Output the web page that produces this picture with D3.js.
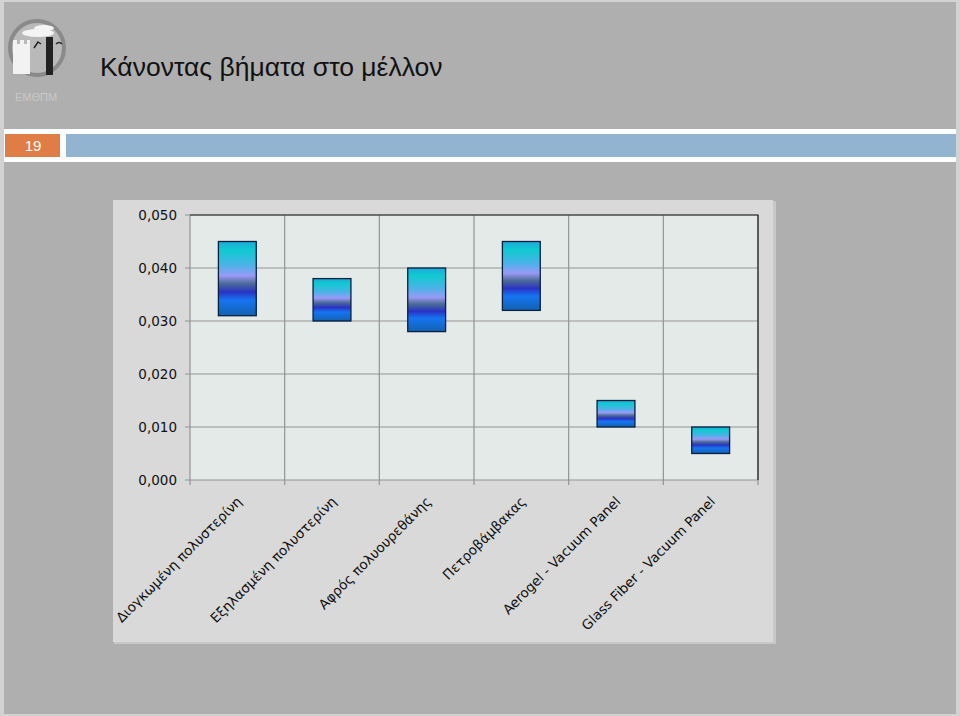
<!DOCTYPE html>
<html>
<head>
<meta charset="utf-8">
<script src="https://cdn.jsdelivr.net/npm/d3@7"></script>
<style>
  html, body { margin: 0; padding: 0; background: #d2d2d2; }
  svg { display: block; }
</style>
</head>
<body>
<svg id="chart" width="960" height="716"></svg>
<script>
// ---- DATA ----
const categories = [
  "Διογκωμένη πολυστερίνη",
  "Εξηλασμένη πολυστερίνη",
  "Αφρός πολυουρεθάνης",
  "Πετροβάμβακας",
  "Aerogel - Vacuum Panel",
  "Glass Fiber - Vacuum Panel"
];
const lowValues  = [0.031, 0.030, 0.028, 0.032, 0.010, 0.005];
const highValues = [0.045, 0.038, 0.040, 0.045, 0.015, 0.010];
const yTicks = [0, 0.01, 0.02, 0.03, 0.04, 0.05];
const yTickLabels = ["0,000", "0,010", "0,020", "0,030", "0,040", "0,050"];
const slideTitle = "Κάνοντας βήματα στο μέλλον";
const slideNumber = "19";
const logoText = "ΕΜΘΠΜ";

const svg = d3.select("#chart");

// ---- slide background ----
svg.append("rect").attr("x", 4).attr("y", 2).attr("width", 952).attr("height", 712).attr("fill", "#afafaf");

// header strip
svg.append("rect").attr("x", 4).attr("y", 129).attr("width", 952).attr("height", 33).attr("fill", "#fbfdff");
svg.append("rect").attr("x", 5).attr("y", 134).attr("width", 55).attr("height", 23).attr("fill", "#e07c46");
svg.append("rect").attr("x", 66).attr("y", 134).attr("width", 890).attr("height", 23).attr("fill", "#93b4d1");
svg.append("text").attr("x", 33).attr("y", 151).attr("text-anchor", "middle")
  .attr("font-family", "Liberation Sans, Arial, sans-serif").attr("font-size", 15)
  .attr("fill", "#ffffff").text(slideNumber);

// title
svg.append("text").attr("x", 100).attr("y", 76)
  .attr("font-family", "Liberation Sans, Arial, sans-serif").attr("font-size", 26.5)
  .attr("fill", "#111").text(slideTitle);

// logo (approximation)
const logo = svg.append("g");
logo.append("circle").attr("cx", 37).attr("cy", 48).attr("r", 27).attr("fill", "#b9b9b9")
  .attr("stroke", "#8a8a8a").attr("stroke-width", 4);
logo.append("rect").attr("x", 13).attr("y", 44).attr("width", 17).attr("height", 30).attr("fill", "#f2f2f2");
logo.append("rect").attr("x", 13).attr("y", 40).attr("width", 4).attr("height", 5).attr("fill", "#f2f2f2");
logo.append("rect").attr("x", 20).attr("y", 40).attr("width", 4).attr("height", 5).attr("fill", "#f2f2f2");
logo.append("rect").attr("x", 27).attr("y", 40).attr("width", 3).attr("height", 5).attr("fill", "#f2f2f2");
logo.append("rect").attr("x", 46).attr("y", 37).attr("width", 7).attr("height", 38).attr("fill", "#222");
logo.append("ellipse").attr("cx", 38).attr("cy", 33).attr("rx", 16).attr("ry", 4).attr("fill", "#f4f4f4");
logo.append("ellipse").attr("cx", 44).attr("cy", 28).attr("rx", 10).attr("ry", 3).attr("fill", "#f4f4f4");
logo.append("path").attr("d", "M56,44 q3,-3 6,0").attr("stroke", "#222").attr("stroke-width", 1.5).attr("fill", "none");
logo.append("path").attr("d", "M34,48 l4,-6 l3,2").attr("stroke", "#222").attr("stroke-width", 1.5).attr("fill", "none");
svg.append("text").attr("x", 15).attr("y", 101)
  .attr("font-family", "Liberation Sans, Arial, sans-serif").attr("font-size", 11)
  .attr("fill", "#c9c9c9").text(logoText);

// ---- chart panel ----
svg.append("rect").attr("x", 114).attr("y", 201).attr("width", 662).attr("height", 443).attr("fill", "#c8c8c8");
svg.append("rect").attr("x", 113).attr("y", 200).attr("width", 660).attr("height", 442).attr("fill", "#d9d9d9");

const plotLeft = 190, plotRight = 758, plotTop = 215, plotBottom = 480;
const x = d3.scaleBand().domain(categories).range([plotLeft, plotRight]).paddingInner(0).paddingOuter(0);
const y = d3.scaleLinear().domain([0, 0.05]).range([plotBottom, plotTop]);

svg.append("rect").attr("x", plotLeft).attr("y", plotTop)
  .attr("width", plotRight - plotLeft).attr("height", plotBottom - plotTop).attr("fill", "#e4eae8");

// gradient
const defs = svg.append("defs");
const grad = defs.append("linearGradient").attr("id", "barGrad")
  .attr("x1", 0).attr("y1", 0).attr("x2", 0).attr("y2", 1);
[
  [0, "#1fa9dc"], [0.12, "#0fcad0"], [0.32, "#4cb2e8"], [0.46, "#9a9af6"],
  [0.57, "#4a6a98"], [0.68, "#2a32c4"], [0.79, "#1674f2"], [1, "#1262b0"]
].forEach(([o, c]) => grad.append("stop").attr("offset", o).attr("stop-color", c));

// horizontal gridlines
svg.append("g").selectAll("line").data(yTicks).join("line")
  .attr("x1", plotLeft - 5).attr("x2", plotRight)
  .attr("y1", d => y(d)).attr("y2", d => y(d))
  .attr("stroke", "#939393").attr("stroke-width", 1.2);

// vertical gridlines at category boundaries
const boundaries = categories.map(c => x(c)).concat([plotRight]);
svg.append("g").selectAll("line").data(boundaries).join("line")
  .attr("x1", d => d).attr("x2", d => d)
  .attr("y1", plotTop).attr("y2", plotBottom + 5)
  .attr("stroke", "#939393").attr("stroke-width", 1.2);

// top and right border
svg.append("path")
  .attr("d", `M${plotLeft},${plotTop}H${plotRight}V${plotBottom}`)
  .attr("fill", "none").attr("stroke", "#222").attr("stroke-width", 1.2);

// bars
const barW = x.bandwidth() * 0.4;
svg.append("g").selectAll("rect").data(categories).join("rect")
  .attr("x", d => x(d) + (x.bandwidth() - barW) / 2)
  .attr("y", (d, i) => y(highValues[i]))
  .attr("width", barW)
  .attr("height", (d, i) => y(lowValues[i]) - y(highValues[i]))
  .attr("fill", "url(#barGrad)")
  .attr("stroke", "#0b1f3f").attr("stroke-width", 1.3);

// y labels
svg.append("g").selectAll("text").data(yTicks).join("text")
  .attr("x", 177).attr("y", d => y(d)).attr("dy", "0.35em")
  .attr("text-anchor", "end")
  .attr("font-family", "DejaVu Sans, sans-serif").attr("font-size", 13.5)
  .attr("fill", "#111")
  .text((d, i) => yTickLabels[i]);

// x labels
svg.append("g").selectAll("text").data(categories).join("text")
  .attr("transform", d => `translate(${x(d) + x.bandwidth() / 2 + 2},${plotBottom + 19}) rotate(-45)`)
  .attr("text-anchor", "end").attr("dy", "0.35em")
  .attr("font-family", "DejaVu Sans, sans-serif").attr("font-size", 13.5)
  .attr("fill", "#111")
  .text(d => d);
</script>
</body>
</html>
